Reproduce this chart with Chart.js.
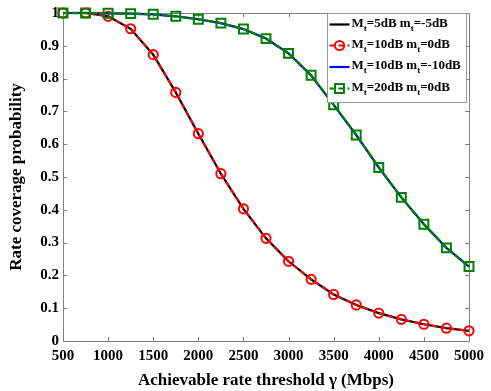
<!DOCTYPE html>
<html>
<head>
<meta charset="utf-8">
<script src="https://cdn.jsdelivr.net/npm/chart.js@4.4.0/dist/chart.umd.min.js"></script>
<style>
html,body{margin:0;padding:0;background:#fff;}
#wrap{position:relative;width:491px;height:391px;}
</style>
</head>
<body>
<div id="wrap"><canvas id="c" width="491" height="391"></canvas></div>
<script>
const xValues = [500,750,1000,1250,1500,1750,2000,2250,2500,2750,3000,3250,3500,3750,4000,4250,4500,4750,5000];
const seriesBlack = [1.0,1.0,0.99,0.952,0.873,0.758,0.632,0.51,0.403,0.313,0.243,0.188,0.142,0.11,0.085,0.066,0.051,0.039,0.031];
const seriesRed   = [1.0,1.0,0.99,0.952,0.873,0.758,0.632,0.51,0.403,0.313,0.243,0.188,0.142,0.11,0.085,0.066,0.051,0.039,0.031];
const seriesBlue  = [1.0,1.0,0.999,0.998,0.996,0.99,0.981,0.969,0.951,0.922,0.877,0.81,0.72,0.628,0.529,0.438,0.356,0.284,0.227];
const seriesGreen = [1.0,1.0,0.999,0.998,0.996,0.99,0.981,0.969,0.951,0.922,0.877,0.81,0.72,0.628,0.529,0.438,0.356,0.284,0.227];
const legendLabels = ["M_t=5dB m_t=-5dB","M_t=10dB m_t=0dB","M_t=10dB m_t=-10dB","M_t=20dB m_t=0dB"];
const xTickLabels = ["500","1000","1500","2000","2500","3000","3500","4000","4500","5000"];
const yTickLabels = ["0","0.1","0.2","0.3","0.4","0.5","0.6","0.7","0.8","0.9","1"];
const xTitle = "Achievable rate threshold \u03b3 (Mbps)";
const yTitle = "Rate coverage probability";

const FONT = "'Liberation Serif','Times New Roman',serif";
const AXIS = '#808080';

function pts(arr){ return arr.map((v,i)=>({x:xValues[i], y:v})); }

const dsStyles = [
  {color:'#000000', width:2.2, dash:[], point:false},
  {color:'#ff0000', width:2.2, dash:[5,4], point:'circle', r:4.6},
  {color:'#0000ff', width:2.2, dash:[], point:false},
  {color:'#008000', width:2.4, dash:[7,2], point:'rect', r:6.3}
];
const seriesList = [seriesBlack, seriesRed, seriesBlue, seriesGreen];

const datasets = seriesList.map((s,i)=>{
  const st = dsStyles[i];
  return {
    label: legendLabels[i],
    data: pts(s),
    borderColor: st.color,
    backgroundColor: 'rgba(0,0,0,0)',
    borderWidth: st.width,
    borderDash: st.dash,
    pointStyle: st.point || 'circle',
    pointRadius: st.point ? st.r : 0,
    pointBorderWidth: 2,
    pointBorderColor: st.color,
    pointBackgroundColor: 'rgba(0,0,0,0)',
    pointHoverRadius: 0,
    tension: 0,
    clip: false,
    order: 4 - i
  };
});

function drawRich(ctx, text, x, y, size){
  const parts = text.split('_');
  let cx = x;
  parts.forEach((p, idx)=>{
    if (idx > 0) {
      ctx.font = 'bold ' + Math.round(size*0.72) + 'px ' + FONT;
      ctx.fillText(p[0], cx, y + size*0.38);
      cx += ctx.measureText(p[0]).width;
      p = p.slice(1);
    }
    ctx.font = 'bold ' + size + 'px ' + FONT;
    ctx.fillText(p, cx, y);
    cx += ctx.measureText(p).width;
  });
  return cx;
}

const frame = {
  id: 'frame',
  beforeDatasetsDraw(chart){
    const {ctx, chartArea:a, scales:{x, y}} = chart;
    ctx.save();
    ctx.strokeStyle = AXIS;
    ctx.lineWidth = 1;
    ctx.beginPath();
    ctx.rect(Math.round(a.left)+0.5, Math.round(a.top)+0.5, Math.round(a.right-a.left), Math.round(a.bottom-a.top));
    ctx.stroke();
    const tl = 4;
    ctx.beginPath();
    x.ticks.forEach(t=>{
      const px = Math.round(x.getPixelForValue(t.value))+0.5;
      ctx.moveTo(px, a.bottom); ctx.lineTo(px, a.bottom - tl);
      ctx.moveTo(px, a.top); ctx.lineTo(px, a.top + tl);
    });
    y.ticks.forEach(t=>{
      const py = Math.round(y.getPixelForValue(t.value))+0.5;
      ctx.moveTo(a.left, py); ctx.lineTo(a.left + tl, py);
      ctx.moveTo(a.right, py); ctx.lineTo(a.right - tl, py);
    });
    ctx.stroke();
    ctx.restore();
  },
  afterDraw(chart){
    const {ctx, chartArea:a} = chart;
    ctx.save();
    const bw = 139, bh = 89;
    const bx = Math.round(a.right) - bw - 2.5, by = Math.round(a.top) + 0.5;
    ctx.fillStyle = '#fff';
    ctx.fillRect(bx, by, bw, bh);
    ctx.strokeStyle = '#999';
    ctx.lineWidth = 1;
    ctx.strokeRect(bx, by, bw, bh);
    const rowY = [11, 32, 53.5, 75];
    chart.data.datasets.forEach((ds, i)=>{
      const st = dsStyles[i];
      const cy = by + rowY[i];
      const x0 = bx + 2, x1 = bx + 22;
      ctx.strokeStyle = st.color;
      ctx.lineWidth = 2.2;
      ctx.setLineDash(st.dash.length ? [5,4] : []);
      ctx.beginPath(); ctx.moveTo(x0, cy); ctx.lineTo(x1, cy); ctx.stroke();
      ctx.setLineDash([]);
      if (st.point === 'circle') {
        ctx.lineWidth = 2;
        ctx.beginPath(); ctx.arc((x0+x1)/2, cy, st.r, 0, Math.PI*2); ctx.stroke();
      } else if (st.point === 'rect') {
        const s = st.r*Math.SQRT1_2;
        ctx.lineWidth = 2;
        ctx.strokeRect((x0+x1)/2 - s, cy - s, 2*s, 2*s);
      }
      ctx.fillStyle = '#000';
      ctx.textBaseline = 'middle';
      ctx.textAlign = 'left';
      drawRich(ctx, ds.label, bx + 24, cy - 1, 13);
    });
    ctx.restore();
  }
};

new Chart(document.getElementById('c'), {
  type: 'line',
  data: { datasets },
  options: {
    responsive: false,
    animation: false,
    devicePixelRatio: 1,
    layout: { padding: { top: 10, right: 22, left: 0, bottom: 0 } },
    plugins: { legend: { display: false }, tooltip: { enabled: false } },
    scales: {
      x: {
        type: 'linear', min: 500, max: 5000,
        grid: { display: false, drawTicks: false },
        border: { display: false },
        ticks: {
          stepSize: 500, padding: 6, color: '#000',
          font: { family: FONT, size: 15, weight: 'bold' },
          maxRotation: 0, autoSkip: false,
          callback: (v, i) => xTickLabels[i]
        },
        title: { display: true, text: xTitle, color: '#000', font: { family: FONT, size: 17, weight: 'bold' }, padding: { top: 0, bottom: 0 } },
        afterFit: (s) => { s.height = 50; }
      },
      y: {
        type: 'linear', min: 0, max: 1,
        grid: { display: false, drawTicks: false },
        border: { display: false },
        ticks: {
          stepSize: 0.1, padding: 4, color: '#000',
          font: { family: FONT, size: 15, weight: 'bold' },
          callback: (v, i) => yTickLabels[i]
        },
        title: { display: true, text: yTitle, color: '#000', font: { family: FONT, size: 17, weight: 'bold' }, padding: { top: 6, bottom: 0 } },
        afterFit: (s) => { s.width = 63; }
      }
    }
  },
  plugins: [frame]
});
</script>
</body>
</html>
